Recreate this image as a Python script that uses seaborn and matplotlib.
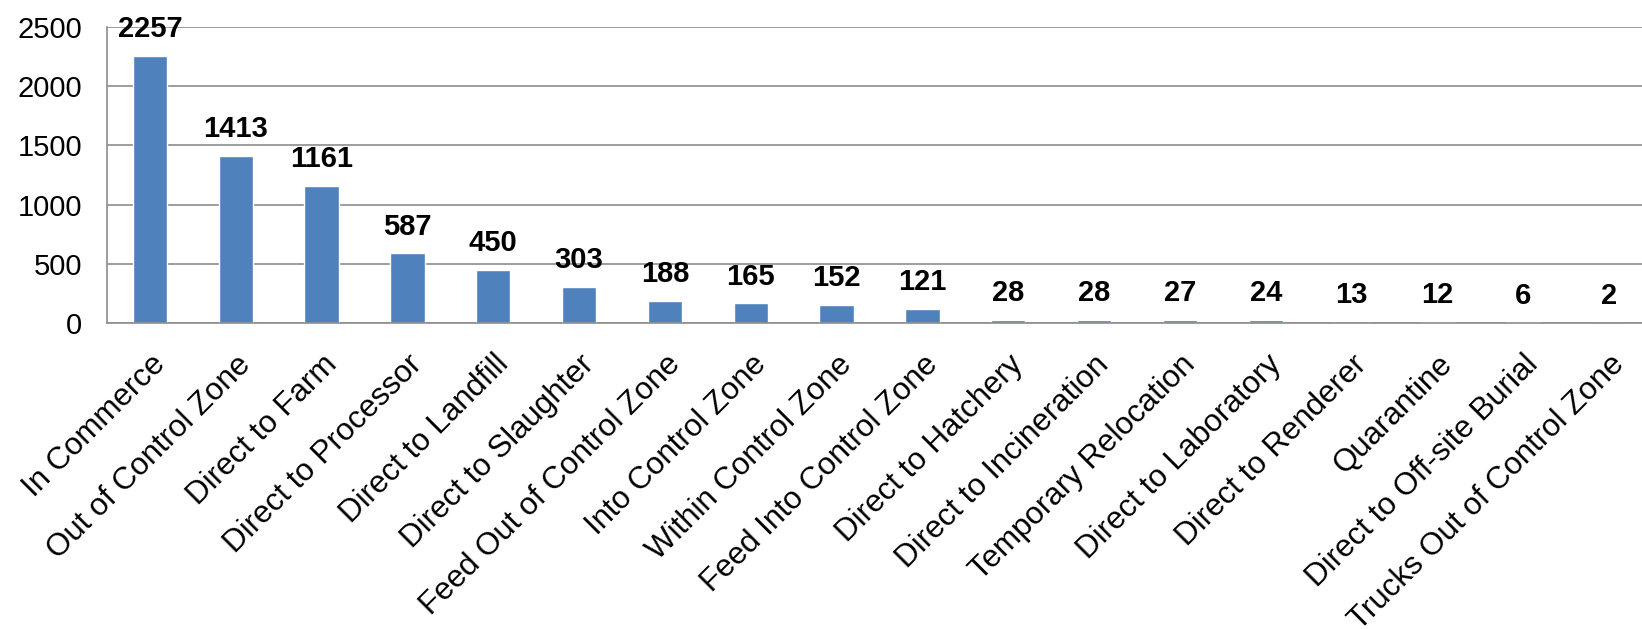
import matplotlib
matplotlib.use("Agg")
import matplotlib.pyplot as plt
import seaborn as sns
import pandas as pd

categories = ["In Commerce", "Out of Control Zone", "Direct to Farm", "Direct to Processor",
              "Direct to Landfill", "Direct to Slaughter", "Feed Out of Control Zone",
              "Into Control Zone", "Within Control Zone", "Feed Into Control Zone",
              "Direct to Hatchery", "Direct to Incineration", "Temporary Relocation",
              "Direct to Laboratory", "Direct to Renderer", "Quarantine",
              "Direct to Off-site Burial", "Trucks Out of Control Zone"]
counts = [2257, 1413, 1161, 587, 450, 303, 188, 165, 152, 121, 28, 28, 27, 24, 13, 12, 6, 2]
yticks = [0, 500, 1000, 1500, 2000, 2500]

df = pd.DataFrame({"Category": categories, "Count": counts})

sns.set_style("white")
plt.rcParams["font.family"] = ["Liberation Sans", "DejaVu Sans"]
plt.rcParams["text.color"] = "black"
plt.rcParams["xtick.labelcolor"] = "black"
plt.rcParams["ytick.labelcolor"] = "black"

fig = plt.figure(figsize=(16.42, 6.29), dpi=100)
W, H = 1642, 629
left, right, top, bottom = 107, 1652, 27, 323
ax = fig.add_axes([left / W, 1 - bottom / H, (right - left) / W, (bottom - top) / H])

sns.barplot(data=df, x="Category", y="Count", color="#4F81BD", saturation=1,
            width=0.4, ax=ax)

ax.set_ylim(0, 2500)
ax.set_xlim(-0.5, len(categories) - 0.5)
ax.set_yticks(yticks)
ax.set_yticklabels([str(t) for t in yticks], fontsize=21, color="black")
ax.yaxis.grid(True, color="#8C8C8C", linewidth=1.2)
ax.set_axisbelow(True)

for s in ["top", "right"]:
    ax.spines[s].set_visible(False)
for s in ["left", "bottom"]:
    ax.spines[s].set_color("#8C8C8C")
    ax.spines[s].set_linewidth(1.2)

ax.tick_params(axis="y", direction="out", length=5, color="#8C8C8C", width=1.2, pad=13)
ax.set_xticks(range(len(categories)))
ax.set_xticklabels(categories, rotation=45, ha="right", rotation_mode="anchor",
                   fontsize=22.5, color="black")
ax.tick_params(axis="x", which="major", length=0, pad=19)
ax.set_xticks([i - 0.5 for i in range(len(categories) + 1)], minor=True)
ax.tick_params(axis="x", which="minor", direction="out", length=7, color="#8C8C8C", width=1.2)

for i, v in enumerate(counts):
    ax.annotate(str(v), (i, v), xytext=(0, 13.5), textcoords="offset points",
                ha="center", va="baseline", fontsize=21, fontweight="bold", color="black")

ax.set_xlabel("")
ax.set_ylabel("")

fig.savefig("out.png", dpi=100)
